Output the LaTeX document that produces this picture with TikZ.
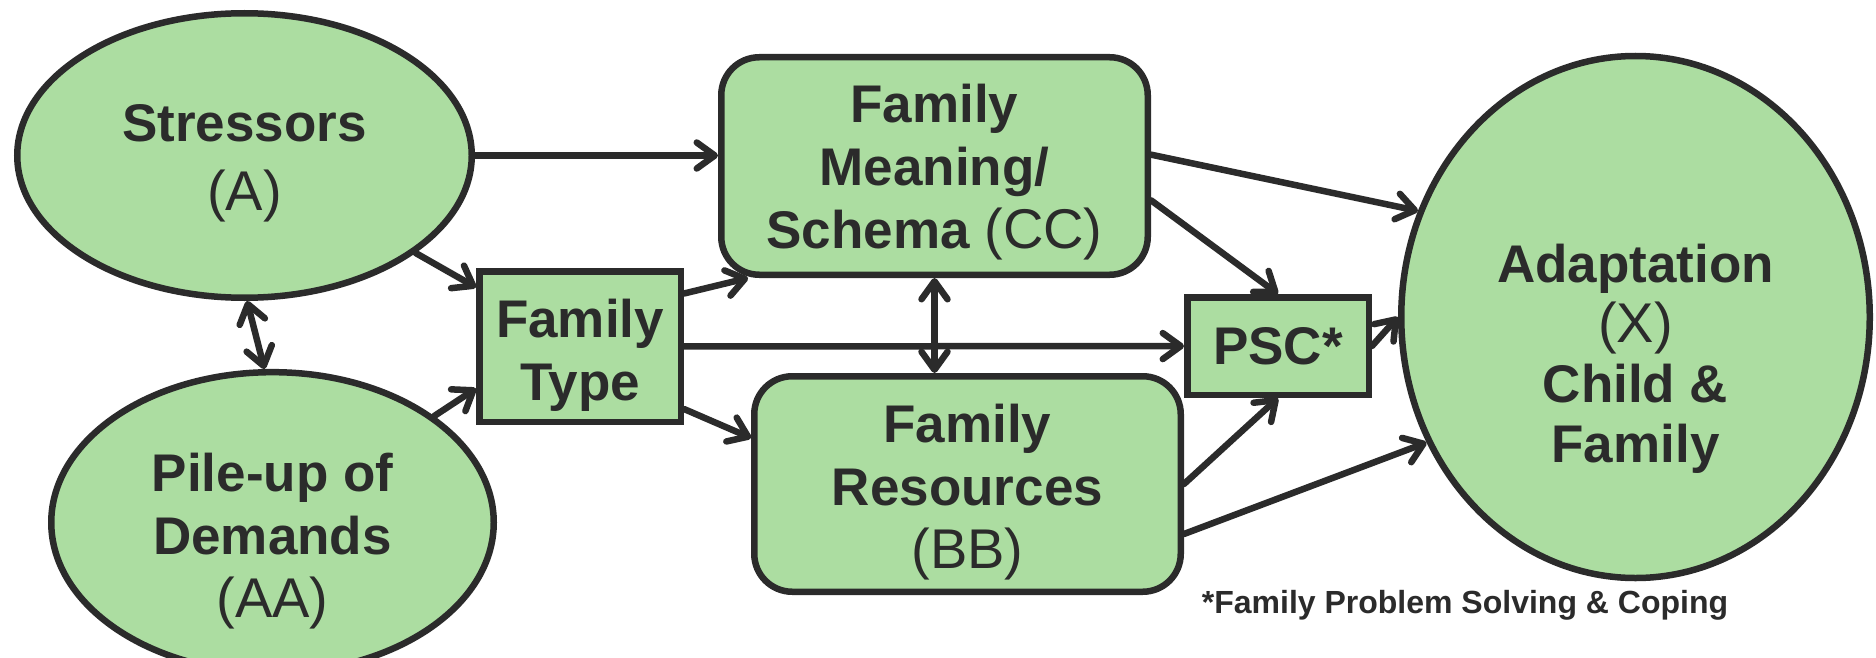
\documentclass[tikz,border=0pt]{standalone}
\usepackage{fontspec}
\setmainfont{Liberation Sans}
\usetikzlibrary{arrows.meta,shapes.geometric}
\definecolor{boxgreen}{HTML}{ACDDA1}
\definecolor{ink}{HTML}{2B2B2B}
\newcommand\regtxt{\mdseries\fontsize{56}{63}\selectfont}
\newcommand\lift[1]{\rule{0pt}{#1}}
\begin{document}
\begin{tikzpicture}[x=1pt,y=-1pt,
  every node/.style={text=ink, font=\bfseries\fontsize{53}{63}\selectfont, align=center},
  ellnode/.style={ellipse, draw=ink, fill=boxgreen, line width=6.5pt, inner sep=0pt},
  recnode/.style={rectangle, draw=ink, fill=boxgreen, line width=6.5pt, inner sep=0pt},
  rndnode/.style={recnode, rounded corners=38pt},
  conn/.style={draw=ink, line width=6.5pt, line cap=round, -{Straight Barb[length=18pt,width=26pt,round]}},
  dconn/.style={draw=ink, line width=6.5pt, line cap=round, {Straight Barb[length=18pt,width=26pt,round]}-{Straight Barb[length=18pt,width=26pt,round]}},
  notestyle/.style={text=ink, font=\bfseries\fontsize{32}{38}\selectfont},
  tightlines/.style={font=\bfseries\fontsize{53}{60}\selectfont}
]
\useasboundingbox (0,0) rectangle (1876,658);
\fill[white] (0,0) rectangle (1876,658);

\node[ellnode, minimum width=454.5pt, minimum height=284.5pt] (A) at (244.5,155.5) {\lift{52pt}Stressors\\[6pt]{\regtxt (A)}};
\node[ellnode, minimum width=442.5pt, minimum height=236.5pt] (AA) at (272.5,522.5) {\lift{75pt}Pile-up of\\Demands\\{\regtxt (AA)}};
\node[recnode, minimum width=201.5pt, minimum height=150.5pt] (FT) at (580,346.5) {\lift{56pt}Family\\Type};
\node[rndnode, minimum width=426.5pt, minimum height=217.5pt] (CC) at (934.5,166) {\lift{50pt}Family\\Meaning/\\Schema {\regtxt (CC)}};
\node[rndnode, minimum width=426.5pt, minimum height=215.5pt] (BB) at (967.5,484) {\lift{54pt}Family\\Resources\\{\regtxt (BB)}};
\node[recnode, minimum width=181.5pt, minimum height=97.5pt] (PSC) at (1278,346) {PSC*};
\node[ellnode, tightlines, minimum width=468.5pt, minimum height=522pt] (X) at (1635.5,317) {\lift{122pt}Adaptation\\{\mdseries\fontsize{56}{60}\selectfont (X)}\\Child \&\\Family};
\node[notestyle] (note) at (1465,605) {*Family Problem Solving \& Coping};

\draw[conn] (A) -- (A -| CC.west);
\draw[conn] (A) -- (FT);
\draw[conn] (AA) -- (FT.202);
\draw[dconn] (A.271) -- (AA.93);
\draw[conn] (FT.27) -- (CC.211);
\draw[conn] (FT) -- (PSC);
\draw[conn] (FT.329) -- (BB.168);
\draw[dconn] (CC.south) -- (CC.south |- BB.north);
\draw[conn] (CC.3) -- (X.154);
\draw[conn] (CC.351) -- (PSC.north);
\draw[conn] (BB.east) -- (PSC.south);
\draw[conn] (BB.347) -- (X.211);
\draw[conn] (PSC.east) -- (X.west);
\end{tikzpicture}
\end{document}
